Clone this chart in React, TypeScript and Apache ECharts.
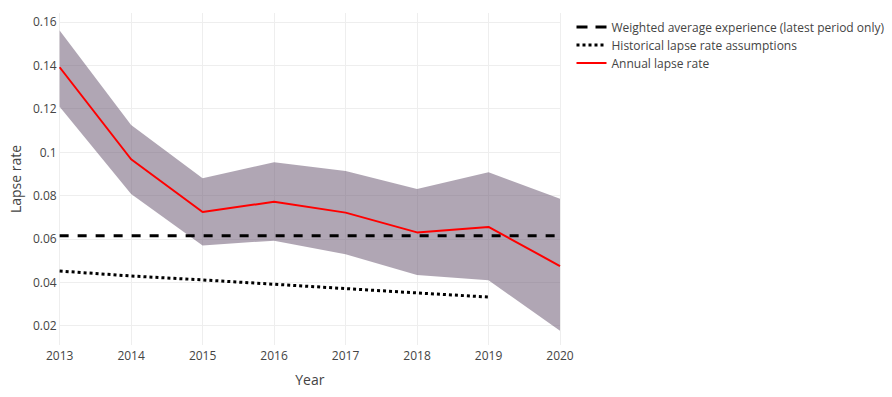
import React, { useEffect, useRef } from "react";
import * as echarts from "echarts";

const years = [2013, 2014, 2015, 2016, 2017, 2018, 2019, 2020];
const annualLapse = [0.1391, 0.0967, 0.0724, 0.0771, 0.0721, 0.063, 0.0655, 0.0475];
const upperBound = [0.156, 0.1125, 0.0879, 0.0953, 0.0913, 0.083, 0.0907, 0.0785];
const lowerBound = [0.1209, 0.0807, 0.057, 0.0592, 0.0529, 0.0434, 0.0409, 0.0177];
const weightedYears = [2013, 2020];
const weightedAvg = [0.0615, 0.0615];
const histYears = [2013, 2014, 2015, 2016, 2017, 2018, 2019];
const histAssumptions = [0.0452, 0.0429, 0.0411, 0.0391, 0.0371, 0.0351, 0.0332];

const FONT = "'Open Sans', sans-serif";
const TXT = "#444";

export default function App() {
  const ref = useRef<HTMLDivElement>(null);
  useEffect(() => {
    if (!ref.current) return;
    const chart = echarts.init(ref.current, undefined, { renderer: "svg" });
    const pair = (xs: number[], ys: number[]) => xs.map((x, i) => [x, ys[i]]);
    const bandData = years.map((y, i) => [y, lowerBound[i], upperBound[i]]);
    chart.setOption({
      animation: false,
      backgroundColor: "#fff",
      textStyle: { fontFamily: FONT },
      grid: { left: 59.5, right: 332, top: 13, bottom: 52, containLabel: false },
      legend: {
        orient: "vertical",
        left: 575,
        top: 21,
        padding: 0,
        itemWidth: 30,
        itemHeight: 14,
        itemGap: 6,
        itemStyle: { opacity: 0 },
        data: [
          {
            name: "Weighted average experience (latest period only)",
            lineStyle: { width: 3, type: [11, 8] },
          },
          {
            name: "Historical lapse rate assumptions",
            lineStyle: { width: 3, type: [3, 3] },
          },
          { name: "Annual lapse rate", lineStyle: { width: 2 } },
        ],
        textStyle: { fontFamily: FONT, fontSize: 12, color: TXT },
      },
      xAxis: {
        type: "value",
        min: 2013,
        max: 2020,
        interval: 1,
        name: "Year",
        nameLocation: "middle",
        nameGap: 27,
        nameTextStyle: { fontFamily: FONT, fontSize: 14, color: TXT },
        axisLine: { show: false },
        axisTick: { show: false },
        axisLabel: {
          margin: 4,
          fontFamily: FONT,
          fontSize: 12,
          color: TXT,
          formatter: (v: number) => String(v),
        },
        splitLine: { show: true, lineStyle: { color: "#eeeeee", width: 1 } },
      },
      yAxis: {
        type: "value",
        min: 0.0111,
        max: 0.1641,
        minInterval: 0.02,
        maxInterval: 0.02,
        splitNumber: 8,
        name: "Lapse rate",
        nameLocation: "middle",
        nameGap: 36,
        nameRotate: 90,
        nameTextStyle: { fontFamily: FONT, fontSize: 14, color: TXT },
        axisLine: { show: false },
        axisTick: { show: false },
        axisLabel: {
          margin: 3,
          fontFamily: FONT,
          fontSize: 12,
          color: TXT,
          showMinLabel: false,
          showMaxLabel: false,
          formatter: (v: number) => String(+v.toFixed(4)),
        },
        splitLine: {
          show: true,
          showMinLine: false,
          showMaxLine: false,
          lineStyle: { color: "#eeeeee", width: 1 },
        },
      },
      series: [
        {
          name: "band",
          type: "custom",
          data: bandData,
          silent: true,
          z: 1,
          encode: { x: 0, y: [1, 2] },
          renderItem: (params: any, api: any) => {
            if (params.dataIndex !== 0) return null;
            const top = years.map((y, i) => api.coord([y, upperBound[i]]));
            const bottom = years
              .map((y, i) => api.coord([y, lowerBound[i]]))
              .reverse();
            return {
              type: "polygon",
              shape: { points: top.concat(bottom) },
              style: { fill: "rgba(97,77,105,0.5)", stroke: "none" },
            };
          },
        },
        {
          name: "Weighted average experience (latest period only)",
          type: "line",
          z: 3,
          data: pair(weightedYears, weightedAvg),
          symbol: "none",
          lineStyle: { color: "#000", width: 3, type: [9, 9] },
          itemStyle: { color: "#000" },
        },
        {
          name: "Historical lapse rate assumptions",
          type: "line",
          z: 3,
          data: pair(histYears, histAssumptions),
          symbol: "none",
          lineStyle: { color: "#000", width: 3, type: [3, 3] },
          itemStyle: { color: "#000" },
        },
        {
          name: "Annual lapse rate",
          type: "line",
          z: 4,
          data: pair(years, annualLapse),
          symbol: "none",
          lineStyle: { color: "#ff0000", width: 2 },
          itemStyle: { color: "#ff0000" },
        },
      ],
    });
    return () => chart.dispose();
  }, []);
  return (
    <div
      ref={ref}
      style={{ position: "fixed", left: 0, top: 0, width: 892, height: 397 }}
    />
  );
}
